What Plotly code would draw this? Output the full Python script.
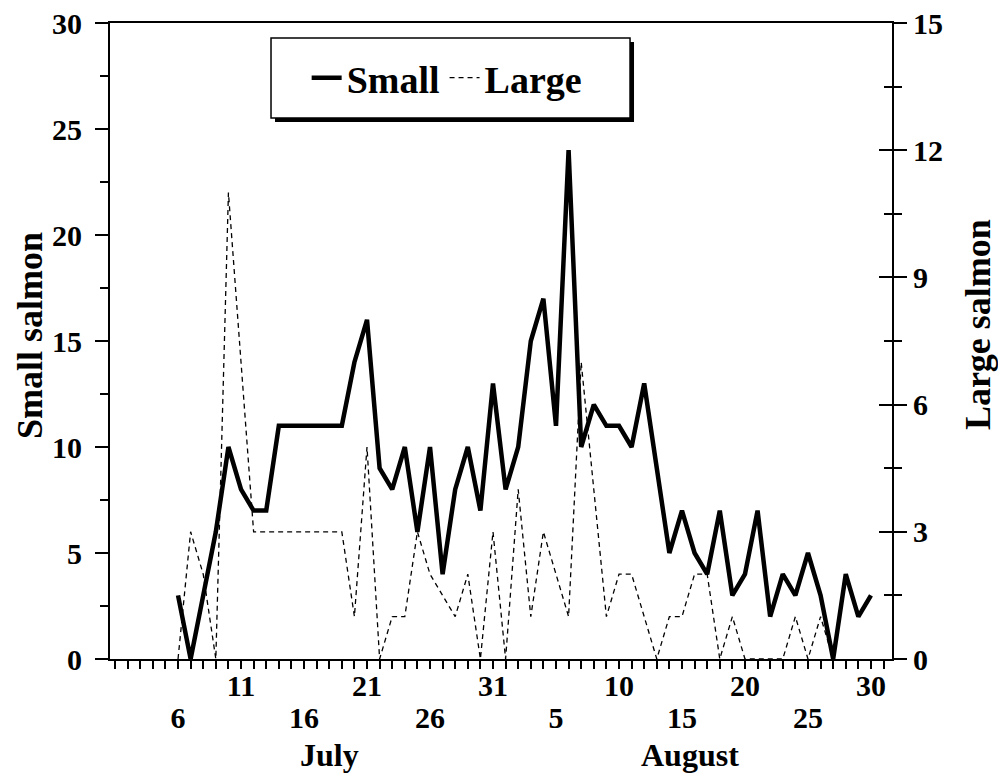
import plotly.graph_objects as go

# ---- data (day index: 1 = July 1, 32 = August 1) ----
small_days = list(range(6, 62))
small_salmon = [3, 0, 3, 6, 10, 8, 7, 7, 11, 11, 11, 11, 11, 11, 14, 16, 9, 8, 10, 6,
                10, 4, 8, 10, 7, 13, 8, 10, 15, 17, 11, 24, 10, 12, 11, 11, 10, 13, 9, 5,
                7, 5, 4, 7, 3, 4, 7, 2, 4, 3, 5, 3, 0, 4, 2, 3]
large_days = list(range(6, 59))
large_salmon = [0, 3, 2, 0, 11, 7, 3, 3, 3, 3, 3, 3, 3, 3, 1, 5, 0, 1, 1, 3,
                2, 1.5, 1, 2, 0, 3, 0, 4, 1, 3, 2, 1, 7, 4, 1, 2, 2, 1, 0, 1,
                1, 2, 2, 0, 1, 0, 0, 0, 0, 1, 0, 1, 0]

tick_days = list(range(1, 63))
upper_days = [11, 21, 31, 41, 51, 61]
upper_text = ["11", "21", "31", "10", "20", "30"]
lower_days = [6, 16, 26, 36, 46, 56]
lower_text = ["6", "16", "26", "5", "15", "25"]
month_days = [18.06, 46.6]
month_text = ["July", "August"]
axis_titles = ["Small salmon", "Large salmon"]

FONT = "Liberation Serif"
XR = [0.6, 62.67]
TICKF = dict(family=FONT, size=30, color="black", weight="bold")

fig = go.Figure()
fig.add_trace(go.Scatter(x=small_days, y=small_salmon, mode="lines", name="Small",
                         line=dict(color="black", width=4.5), yaxis="y"))
fig.add_trace(go.Scatter(x=large_days, y=large_salmon, mode="lines", name="Large",
                         line=dict(color="black", width=1.3, dash="5px,4px"), yaxis="y2"))

upper_map = dict(zip(upper_days, upper_text))
fig.update_layout(
    width=990, height=770,
    margin=dict(l=102, r=106, t=15, b=119, autoexpand=False),
    paper_bgcolor="white", plot_bgcolor="white",
    font=dict(family=FONT, size=30, color="black", weight="bold"),
    showlegend=True,
    legend=dict(orientation="h", x=0.4305, y=0.9135, xanchor="center", yanchor="middle",
                bgcolor="rgba(0,0,0,0)", borderwidth=0,
                font=dict(family=FONT, size=38, color="black", weight="bold")),
    xaxis=dict(range=XR, tickvals=tick_days, automargin=False,
               ticktext=[upper_map.get(d, "") for d in tick_days],
               ticks="outside", ticklen=8, tickwidth=1.5, tickcolor="black",
               showline=True, linewidth=2, linecolor="black", mirror=True,
               showgrid=False, zeroline=False, tickangle=0, ticklabelstandoff=-9,
               ticklabeloverflow="allow", tickfont=TICKF),
    xaxis2=dict(range=XR, overlaying="x", anchor="y", side="bottom", automargin=False,
                tickvals=lower_days, ticktext=lower_text, ticks="",
                ticklabelstandoff=38, showline=False, showgrid=False, zeroline=False,
                ticklabeloverflow="allow", tickfont=TICKF),
    yaxis=dict(range=[0, 30], tickvals=[0, 5, 10, 15, 20, 25, 30], automargin=False,
               ticks="outside", ticklen=13, tickwidth=1.5, tickcolor="black",
               minor=dict(tickvals=[2.5, 7.5, 12.5, 17.5, 22.5, 27.5], ticks="outside",
                          ticklen=8, tickwidth=1.5, tickcolor="black"),
               showline=True, linewidth=2, linecolor="black",
               showgrid=False, zeroline=False, ticklabelstandoff=7,
               ticklabeloverflow="allow", tickfont=TICKF),
    yaxis2=dict(range=[0, 15], overlaying="y", side="right", anchor="x", automargin=False,
                tickvals=[0, 3, 6, 9, 12, 15],
                ticks="outside", ticklen=13, tickwidth=1.5, tickcolor="black",
                minor=dict(tickvals=[1.5, 4.5, 7.5, 10.5, 13.5], ticks="outside",
                           ticklen=8, tickwidth=1.5, tickcolor="black"),
                showline=True, linewidth=2, linecolor="black",
                showgrid=False, zeroline=False, ticklabelstandoff=0,
                ticklabeloverflow="allow", tickfont=TICKF),
    yaxis3=dict(range=[0, 15], overlaying="y", side="right", anchor="x", automargin=False,
                tickvals=[0, 3, 6, 9, 12, 15], showticklabels=False,
                ticks="inside", ticklen=13, tickwidth=1.5, tickcolor="black",
                minor=dict(tickvals=[1.5, 4.5, 7.5, 10.5, 13.5], ticks="inside",
                           ticklen=8, tickwidth=1.5, tickcolor="black"),
                showline=False, showgrid=False, zeroline=False),
)

# dummy invisible trace so xaxis2 / yaxis3 get rendered
fig.add_trace(go.Scatter(x=[XR[0]], y=[0], xaxis="x2", yaxis="y3", mode="markers",
                         marker=dict(opacity=0), showlegend=False, hoverinfo="skip"))

# legend frame with drop shadow
fig.add_shape(type="rect", xref="paper", yref="paper",
              x0=0.2110, x1=0.6701, y0=0.8443, y1=0.9701,
              fillcolor="black", line=dict(width=0), layer="above")
fig.add_shape(type="rect", xref="paper", yref="paper",
              x0=0.2059, x1=0.6650, y0=0.8506, y1=0.9764,
              fillcolor="white", line=dict(color="black", width=1.5), layer="above")

for d, t in zip(month_days, month_text):
    fig.add_annotation(x=d, xref="x", y=-0.151, yref="paper", text=t, showarrow=False,
                       yanchor="middle", font=dict(family=FONT, size=32, weight="bold"))

# axis titles
for (px, py), t in zip([(-0.1023, 0.508), (1.110, 0.525)], axis_titles):
    fig.add_annotation(x=px, xref="paper", y=py, yref="paper", text=t, showarrow=False,
                       textangle=-90, xanchor="center", yanchor="middle",
                       font=dict(family=FONT, size=36, weight="bold"))

fig.write_html("out.html")
